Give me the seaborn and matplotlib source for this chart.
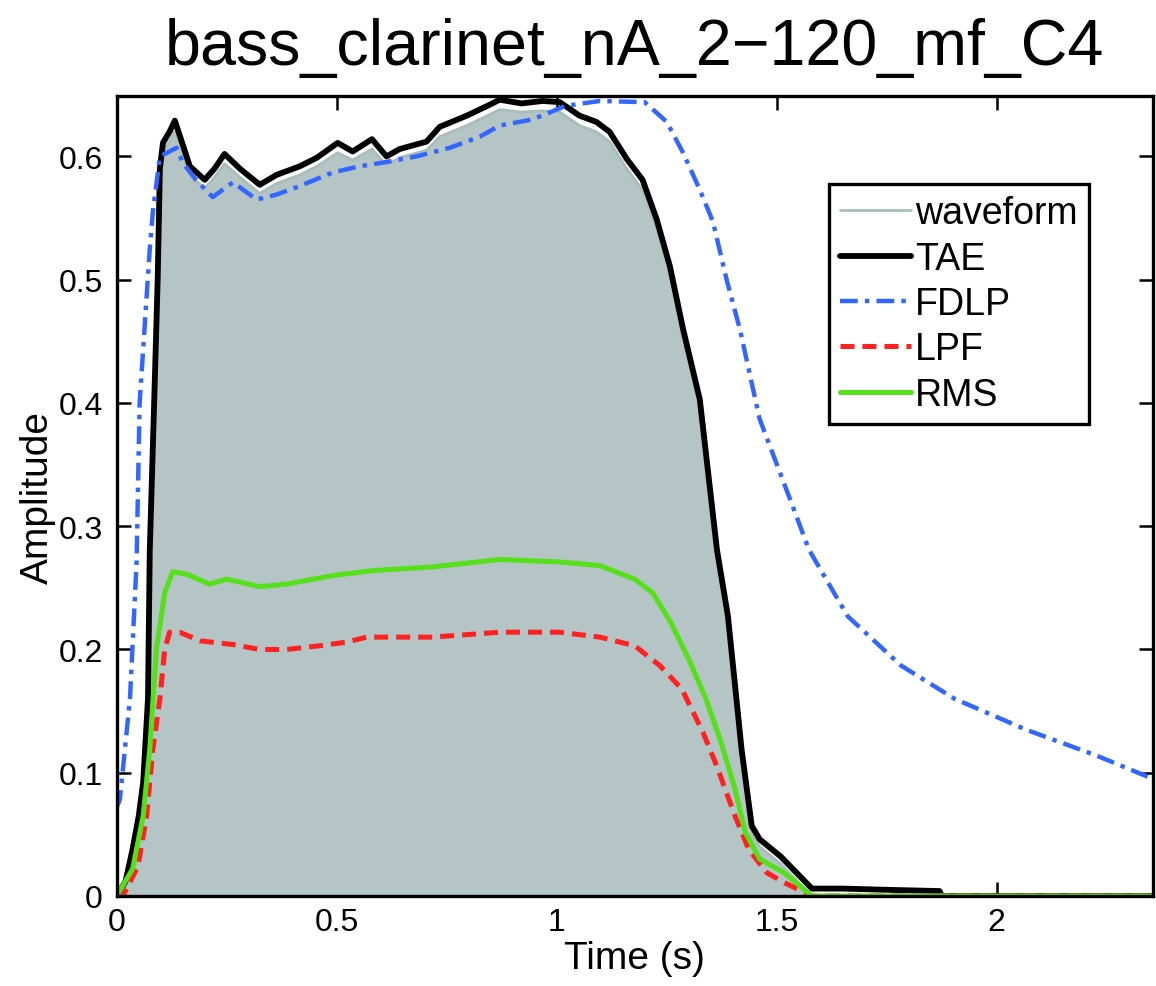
import numpy as np
import pandas as pd
import matplotlib
matplotlib.use("Agg")
import matplotlib.pyplot as plt
import seaborn as sns

# ---------------- data ----------------
tae_t = [0, 0.02, 0.036, 0.05, 0.06, 0.071, 0.075, 0.085, 0.093, 0.098, 0.105, 0.12, 0.132,
         0.145, 0.166, 0.2, 0.222, 0.245, 0.28, 0.325, 0.363, 0.416, 0.455, 0.502, 0.536,
         0.58, 0.613, 0.643, 0.704, 0.734, 0.795, 0.848, 0.87, 0.92, 0.968, 1.007, 1.052,
         1.09, 1.12, 1.159, 1.195, 1.227, 1.257, 1.287, 1.325, 1.364, 1.389, 1.42, 1.443,
         1.461, 1.509, 1.58, 1.65, 1.75, 1.87, 1.875, 2.355]
tae_y = [0, 0.012, 0.038, 0.065, 0.092, 0.16, 0.28, 0.40, 0.50, 0.59, 0.611, 0.62, 0.629,
         0.615, 0.592, 0.581, 0.59, 0.602, 0.59, 0.577, 0.585, 0.592, 0.599, 0.611, 0.604,
         0.614, 0.600, 0.606, 0.612, 0.624, 0.633, 0.642, 0.646, 0.643, 0.645, 0.644, 0.633,
         0.628, 0.62, 0.598, 0.581, 0.549, 0.511, 0.46, 0.403, 0.281, 0.227, 0.119, 0.057,
         0.046, 0.032, 0.006, 0.006, 0.005, 0.004, 0, 0]

wave_t = [0, 0.02, 0.036, 0.05, 0.06, 0.071, 0.075, 0.085, 0.093, 0.098, 0.105, 0.12, 0.132,
          0.145, 0.166, 0.2, 0.222, 0.245, 0.28, 0.325, 0.363, 0.416, 0.455, 0.502, 0.536,
          0.58, 0.613, 0.643, 0.704, 0.734, 0.795, 0.848, 0.87, 0.92, 0.968, 1.007, 1.052,
          1.09, 1.12, 1.159, 1.195, 1.227, 1.257, 1.287, 1.325, 1.364, 1.389, 1.42, 1.443,
          1.461, 1.509, 1.58]
wave_y = [0, 0.008, 0.033, 0.06, 0.086, 0.154, 0.272, 0.392, 0.493, 0.583, 0.604, 0.612, 0.62,
          0.607, 0.585, 0.574, 0.583, 0.594, 0.583, 0.57, 0.578, 0.585, 0.592, 0.603, 0.597,
          0.606, 0.593, 0.599, 0.605, 0.616, 0.625, 0.634, 0.638, 0.636, 0.637, 0.636, 0.625,
          0.62, 0.612, 0.59, 0.573, 0.541, 0.503, 0.452, 0.395, 0.273, 0.219, 0.112, 0.05,
          0.04, 0.026, 0]

fdlp_t = [0, 0.007, 0.03, 0.045, 0.052, 0.075, 0.082, 0.098, 0.136, 0.15, 0.18, 0.218, 0.264,
          0.318, 0.363, 0.416, 0.491, 0.552, 0.605, 0.681, 0.757, 0.825, 0.87, 0.945, 1.02,
          1.098, 1.2, 1.25, 1.287, 1.325, 1.355, 1.386, 1.416, 1.461, 1.53, 1.573, 1.661,
          1.782, 1.904, 2.066, 2.226, 2.355]
fdlp_y = [0.072, 0.078, 0.16, 0.27, 0.40, 0.525, 0.555, 0.60, 0.607, 0.595, 0.581, 0.567,
          0.579, 0.565, 0.569, 0.576, 0.587, 0.592, 0.595, 0.6, 0.607, 0.616, 0.625, 0.63,
          0.641, 0.645, 0.644, 0.628, 0.603, 0.573, 0.547, 0.50, 0.46, 0.387, 0.322, 0.281,
          0.227, 0.187, 0.16, 0.135, 0.114, 0.095]

lpf_t = [0, 0.014, 0.048, 0.068, 0.082, 0.098, 0.109, 0.12, 0.143, 0.189, 0.264, 0.325, 0.386,
         0.461, 0.523, 0.568, 0.718, 0.87, 1.007, 1.098, 1.177, 1.234, 1.284, 1.332, 1.364,
         1.405, 1.436, 1.477, 1.516, 1.58, 2.355]
lpf_y = [0, 0, 0.024, 0.065, 0.119, 0.16, 0.2, 0.214, 0.214, 0.207, 0.204, 0.2, 0.2,
         0.203, 0.206, 0.21, 0.21, 0.214, 0.214, 0.21, 0.203, 0.187, 0.168, 0.133, 0.105,
         0.065, 0.038, 0.019, 0.011, 0.0, 0.0]

rms_t = [0, 0.036, 0.06, 0.075, 0.09, 0.109, 0.127, 0.159, 0.211, 0.25, 0.325, 0.386, 0.491,
         0.582, 0.718, 0.87, 1.007, 1.098, 1.177, 1.218, 1.259, 1.3, 1.339, 1.373, 1.405,
         1.428, 1.461, 1.516, 1.58, 2.355]
rms_y = [0, 0.022, 0.065, 0.119, 0.2, 0.246, 0.263, 0.261, 0.253, 0.257, 0.251, 0.253, 0.26,
         0.264, 0.267, 0.273, 0.271, 0.268, 0.257, 0.246, 0.222, 0.192, 0.16, 0.125, 0.087,
         0.052, 0.030, 0.019, 0.0, 0.0]

title = "bass_clarinet_nA_2\u2212120_mf_C4"
x_ticks = [0, 0.5, 1, 1.5, 2]
x_tick_labels = ["0", "0.5", "1", "1.5", "2"]
y_ticks = [0, 0.1, 0.2, 0.3, 0.4, 0.5, 0.6]
y_tick_labels = ["0", "0.1", "0.2", "0.3", "0.4", "0.5", "0.6"]

# ---------------- plotting ----------------
sns.set_theme(style="white")
plt.rcParams["font.family"] = ["Liberation Sans", "DejaVu Sans"]
plt.rcParams["text.color"] = "black"
plt.rcParams["axes.labelcolor"] = "black"

fig = plt.figure(figsize=(11.56, 9.87), dpi=100)
ax = fig.add_axes([0.101, 0.0912, 0.8964, 0.8105])

wave_color = "#b5c4c4"
ax.fill_between(wave_t, 0, wave_y, color=wave_color, linewidth=0, zorder=1)
sns.lineplot(x=wave_t, y=wave_y, ax=ax, color="#a9bdbb", linewidth=2.0, sort=False,
             estimator=None, label="waveform", zorder=1.5)
sns.lineplot(x=tae_t, y=tae_y, ax=ax, color="black", linewidth=4.2, sort=False,
             estimator=None, label="TAE", zorder=3)
sns.lineplot(x=fdlp_t, y=fdlp_y, ax=ax, color="#3366ff", linewidth=3.2, sort=False,
             estimator=None, label="FDLP", zorder=4)
ax.lines[-1].set_dashes([4, 1.6, 1.0, 1.6])
sns.lineplot(x=lpf_t, y=lpf_y, ax=ax, color="#ff2020", linewidth=3.6, sort=False,
             estimator=None, label="LPF", zorder=4)
ax.lines[-1].set_dashes([2.8, 1.6])
sns.lineplot(x=rms_t, y=rms_y, ax=ax, color="#55e01a", linewidth=3.6, sort=False,
             estimator=None, label="RMS", zorder=5)

ax.set_xlim(0, 2.355)
ax.set_ylim(0, 0.649)
ax.set_xticks(x_ticks)
ax.set_xticklabels(x_tick_labels)
ax.set_yticks(y_ticks)
ax.set_yticklabels(y_tick_labels)
ax.tick_params(direction="in", length=10, width=1.8, labelsize=23, colors="black",
               top=True, right=True, bottom=True, left=True)
ax.tick_params(axis="x", pad=8)
ax.tick_params(axis="y", pad=10)
for s in ax.spines.values():
    s.set_visible(True)
    s.set_color("black")
    s.set_linewidth(2.4)
    s.set_zorder(10)

ax.set_xlabel("Time (s)", fontsize=28, labelpad=2, color="black")
ax.set_ylabel("Amplitude", fontsize=28, labelpad=2, color="black")
ax.set_title(title, fontsize=46.5, pad=23, color="black")

leg = ax.legend(loc="upper left", bbox_to_anchor=(0.687, 0.89), borderaxespad=0,
                fontsize=27, frameon=True, fancybox=False, framealpha=1,
                edgecolor="black", handlelength=1.9, handletextpad=0.1,
                labelspacing=0.25, borderpad=0.3)
leg.get_frame().set_linewidth(2.4)
for t in leg.get_texts():
    t.set_color("black")
leg.set_zorder(20)

fig.savefig("out.png", dpi=100)
